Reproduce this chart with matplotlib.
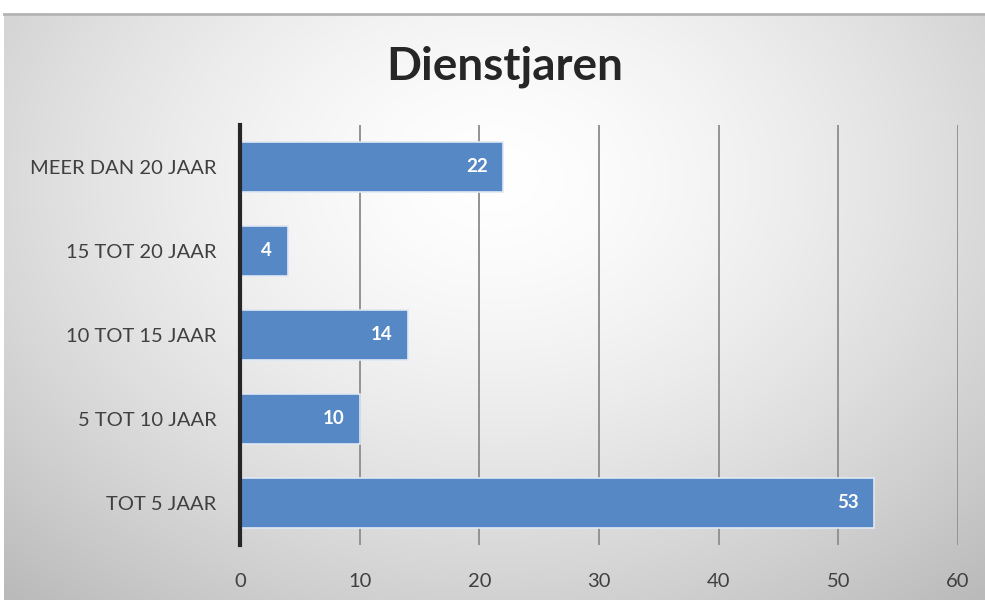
import matplotlib
matplotlib.use("Agg")
import matplotlib.pyplot as plt
import numpy as np

# data
categories = ["TOT 5 JAAR", "5 TOT 10 JAAR", "10 TOT 15 JAAR", "15 TOT 20 JAAR", "MEER DAN 20 JAAR"]
values = [53, 10, 14, 4, 22]
xticks = [0, 10, 20, 30, 40, 50, 60]
title = "Dienstjaren"

plt.rcParams['font.family'] = ['Lato', 'DejaVu Sans']

fig = plt.figure(figsize=(9.85, 6.0), dpi=100)
fig.patch.set_facecolor("white")

# radial gradient background of the chart area
bg = fig.add_axes([0.004, 0.0, 0.996, 1 - 14 / 600])
ny, nx = 300, 500
yy, xx = np.mgrid[0:1:ny * 1j, 0:1:nx * 1j]
r = np.sqrt(((xx - 0.5) / 0.75) ** 2 + ((yy - 0.28) / 0.95) ** 2)
shade = 1.0 - 0.27 * np.clip(r, 0, 1) ** 1.5
bg.imshow(np.dstack([shade, shade, shade]), aspect="auto", extent=[0, 1, 1, 0],
          interpolation="bilinear")
bg.set_xticks([])
bg.set_yticks([])
for s in ["left", "bottom", "right"]:
    bg.spines[s].set_visible(False)
bg.spines["top"].set_color("#b4b4b4")
bg.spines["top"].set_linewidth(2)

ax = fig.add_axes([240 / 985, 1 - 545 / 600, (958 - 240) / 985, 420 / 600])
ax.patch.set_alpha(0)
ypos = np.arange(len(categories))
bars = ax.barh(ypos, values, height=0.6, color="#5788c6", edgecolor="#dfe8f3",
               linewidth=1.2, zorder=3)

for b, v in zip(bars, values):
    ax.text(b.get_width() - 1.3, b.get_y() + b.get_height() / 2, str(v),
            ha="right", va="center", color="white", fontsize=13.5,
            fontweight="bold", zorder=4)

ax.set_xlim(0, 60)
ax.set_ylim(-0.5, len(categories) - 0.5)
ax.set_xticks(xticks)
ax.set_yticks(ypos)
ax.set_yticklabels(categories)
ax.tick_params(axis="both", length=0, labelsize=14.5, colors="#404040")
ax.tick_params(axis="x", pad=20)
ax.tick_params(axis="y", pad=17)
ax.xaxis.grid(True, color="#939393", linewidth=1.4, zorder=1)
for s in ["top", "right", "bottom"]:
    ax.spines[s].set_visible(False)
ax.spines["left"].set_color("#262626")
ax.spines["left"].set_linewidth(3)
ax.spines["left"].set_zorder(5)

fig.text(0.512, 1 - 67 / 600, title, ha="center", va="center", fontsize=33,
         fontweight="bold", color="#262626")

fig.savefig("out.png", dpi=100)
